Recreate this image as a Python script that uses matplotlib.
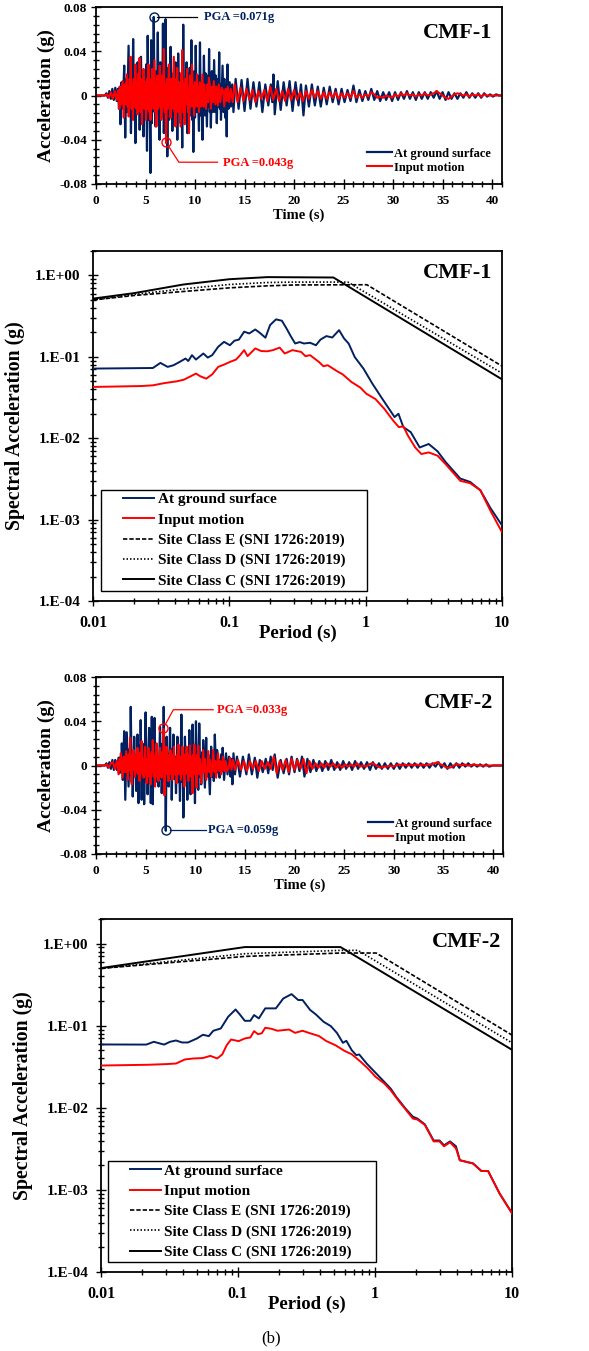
import numpy as np
import matplotlib.pyplot as plt
from matplotlib.ticker import MultipleLocator, LogLocator, NullFormatter
from matplotlib.legend_handler import HandlerLine2D

plt.rcParams['font.family'] = ['Liberation Serif', 'DejaVu Serif']
plt.rcParams['font.weight'] = 'bold'
plt.rcParams['axes.labelweight'] = 'bold'

NAVY = '#002060'
RED = '#FF0000'

# ---------------- time histories (time s, acceleration g) ----------------
gs1_pts = [
    (0.0, 0.0), (0.9, 0.0), (1.05, 0.002), (1.2, -0.002), (1.35, 0.004), (1.5, -0.003),
    (1.65, 0.006), (1.8, -0.004), (1.95, 0.007), (2.1, -0.005), (2.22, 0.006), (2.32, -0.012),
    (2.4, 0.008), (2.47, -0.026), (2.58, 0.012), (2.7, -0.012), (2.85, 0.027), (2.95, -0.038),
    (3.05, 0.015), (3.15, -0.015), (3.29, 0.045), (3.4, -0.018), (3.46, 0.016), (3.53, -0.034),
    (3.63, 0.022), (3.68, -0.010), (3.75, 0.051), (3.86, -0.022), (3.92, 0.012), (3.98, -0.043),
    (4.07, 0.015), (4.13, -0.012), (4.2, 0.030), (4.3, -0.015), (4.35, 0.010), (4.41, -0.031),
    (4.54, 0.035), (4.63, -0.012), (4.7, 0.018), (4.8, -0.037), (4.9, 0.022), (4.97, -0.018),
    (5.06, 0.028), (5.15, -0.050), (5.22, 0.054), (5.31, -0.022), (5.38, 0.020), (5.5, -0.070),
    (5.57, 0.050), (5.64, -0.025), (5.7, 0.015), (5.76, -0.012), (5.83, 0.071), (5.92, -0.015),
    (5.96, 0.010), (6.02, -0.028), (6.1, 0.022), (6.16, -0.012), (6.24, 0.057), (6.32, -0.018),
    (6.36, 0.008), (6.42, -0.040), (6.5, 0.030), (6.58, -0.020), (6.66, 0.025), (6.7, -0.005),
    (6.76, 0.065), (6.85, -0.034), (6.93, 0.020), (6.97, -0.010), (7.03, 0.069), (7.12, -0.020),
    (7.15, 0.005), (7.2, -0.055), (7.3, 0.025), (7.38, -0.022), (7.53, 0.044), (7.62, -0.015),
    (7.66, 0.012), (7.71, -0.032), (7.8, 0.020), (7.9, -0.018), (8.03, 0.030), (8.12, -0.012),
    (8.16, 0.008), (8.21, -0.040), (8.3, 0.038), (8.4, -0.015), (8.47, 0.020), (8.55, -0.025),
    (8.62, 0.015), (8.71, -0.047), (8.81, 0.064), (8.9, -0.020), (8.97, 0.012), (9.05, -0.025),
    (9.15, 0.030), (9.22, -0.034), (9.3, 0.020), (9.38, -0.020), (9.46, 0.025), (9.54, -0.018),
    (9.63, 0.050), (9.72, -0.022), (9.77, 0.015), (9.83, -0.051), (9.92, 0.022), (10.0, -0.020),
    (10.07, 0.045), (10.16, -0.015), (10.24, 0.018), (10.4, -0.032), (10.5, 0.048), (10.58, -0.018),
    (10.64, 0.012), (10.75, -0.040), (10.9, 0.036), (11.0, -0.018), (11.07, 0.020), (11.2, -0.028),
    (11.3, 0.018), (11.36, -0.010), (11.42, 0.042), (11.5, -0.015), (11.53, 0.010), (11.6, -0.029),
    (11.7, 0.022), (11.8, -0.015), (11.93, 0.032), (12.03, -0.015), (12.1, 0.018), (12.2, -0.025),
    (12.3, 0.015), (12.36, -0.010), (12.44, 0.039), (12.52, -0.012), (12.56, 0.010), (12.62, -0.022),
    (12.78, 0.027), (12.88, -0.015), (12.96, 0.015), (13.05, -0.020), (13.12, 0.010), (13.2, -0.037),
    (13.28, 0.028), (13.38, -0.012), (13.5, 0.012), (13.62, -0.010), (13.75, 0.010), (13.88, -0.015),
    (14.1, 0.015), (14.4, -0.012), (14.7, 0.014), (15.0, -0.014), (15.3, 0.015), (15.6, -0.012),
    (15.9, 0.012), (16.2, -0.010), (16.5, 0.012), (16.8, -0.015), (17.1, 0.010), (17.4, -0.009),
    (17.65, 0.010), (17.8, -0.006), (17.92, 0.019), (18.05, -0.017), (18.35, 0.013), (18.65, -0.013),
    (18.95, 0.012), (19.25, -0.009), (19.55, 0.013), (19.85, -0.014), (20.15, 0.012), (20.45, -0.009),
    (20.7, 0.010), (20.95, -0.018), (21.2, 0.009), (21.5, -0.010), (21.8, 0.010), (22.1, -0.009),
    (22.4, 0.008), (22.7, -0.010), (23.0, 0.007), (23.3, -0.008), (23.6, 0.008), (23.9, -0.006),
    (24.2, 0.006), (24.5, -0.008), (24.8, 0.006), (25.1, -0.006), (25.4, 0.005), (25.7, -0.005),
    (26.0, 0.009), (26.3, -0.006), (26.6, 0.005), (26.9, -0.005), (27.2, 0.004), (27.5, -0.004),
    (27.8, 0.006), (28.1, -0.004), (28.4, 0.004), (28.7, -0.005), (29.0, 0.003), (29.3, -0.004),
    (29.6, 0.003), (29.9, -0.005), (30.2, 0.003), (30.5, -0.004), (30.8, 0.003), (31.1, -0.003),
    (31.4, 0.004), (31.7, -0.003), (32.0, 0.003), (32.3, -0.004), (32.6, 0.003), (32.9, -0.003),
    (33.2, 0.003), (33.5, -0.003), (33.8, 0.003), (34.1, -0.002), (34.4, 0.004), (34.7, -0.003),
    (35.0, 0.003), (35.3, -0.004), (35.6, 0.003), (35.9, -0.003), (36.2, 0.002), (36.5, -0.003),
    (36.8, 0.002), (37.1, -0.002), (37.4, 0.003), (37.7, -0.002), (38.0, 0.002), (38.3, -0.002),
    (38.6, 0.002), (38.9, -0.002), (39.2, 0.002), (39.5, -0.001), (39.8, 0.001), (40.1, -0.001),
    (40.4, 0.001), (40.7, 0.0), (41.0, 0.0),
]

in1_pts = [
    (0.0, 0.0), (0.9, 0.0), (1.1, 0.001), (1.3, -0.002), (1.5, 0.003), (1.7, -0.003),
    (1.9, 0.004), (2.1, -0.004), (2.25, 0.005), (2.36, -0.012), (2.45, 0.008), (2.52, -0.008),
    (2.68, 0.013), (2.8, -0.020), (2.9, 0.010), (2.98, -0.008), (3.1, 0.019), (3.2, -0.010),
    (3.24, 0.006), (3.3, -0.019), (3.4, 0.015), (3.45, -0.005), (3.5, 0.035), (3.6, -0.012),
    (3.66, 0.010), (3.73, -0.022), (3.82, 0.015), (3.9, -0.010), (3.97, 0.028), (4.07, -0.012),
    (4.13, 0.012), (4.2, -0.017), (4.3, 0.020), (4.35, -0.008), (4.4, 0.034), (4.5, -0.015),
    (4.56, 0.015), (4.64, -0.026), (4.72, 0.010), (4.76, -0.006), (4.8, 0.024), (4.9, -0.012),
    (4.96, 0.012), (5.05, -0.022), (5.15, 0.015), (5.22, -0.012), (5.3, 0.028), (5.4, -0.015),
    (5.44, 0.010), (5.5, -0.022), (5.58, 0.015), (5.62, -0.008), (5.66, 0.024), (5.78, -0.012),
    (5.9, 0.032), (6.0, -0.015), (6.04, 0.010), (6.1, -0.028), (6.2, 0.018), (6.28, -0.012),
    (6.36, 0.015), (6.4, -0.005), (6.44, 0.027), (6.52, -0.010), (6.56, 0.008), (6.6, -0.022),
    (6.7, 0.018), (6.77, -0.010), (6.85, 0.042), (6.95, -0.015), (7.0, 0.010), (7.08, -0.043),
    (7.18, 0.015), (7.25, -0.012), (7.36, 0.028), (7.45, -0.008), (7.49, 0.010), (7.53, -0.020),
    (7.62, 0.015), (7.7, -0.012), (7.86, 0.035), (7.95, -0.015), (7.99, 0.008), (8.03, -0.028),
    (8.12, 0.015), (8.16, -0.005), (8.2, 0.025), (8.3, -0.015), (8.38, 0.012), (8.54, -0.028),
    (8.62, 0.020), (8.66, -0.008), (8.7, 0.041), (8.8, -0.015), (8.86, 0.010), (8.95, -0.026),
    (9.05, 0.015), (9.12, -0.008), (9.2, 0.024), (9.3, -0.015), (9.34, 0.005), (9.39, -0.034),
    (9.5, 0.018), (9.58, -0.010), (9.7, 0.028), (9.8, -0.010), (9.84, 0.008), (9.9, -0.018),
    (10.0, 0.012), (10.08, -0.010), (10.2, 0.019), (10.3, -0.010), (10.34, 0.008), (10.4, -0.015),
    (10.5, 0.012), (10.6, -0.010), (10.75, 0.019), (10.85, -0.010), (10.95, 0.010), (11.1, -0.012),
    (11.25, 0.010), (11.32, -0.006), (11.4, 0.016), (11.52, 0.006), (11.6, -0.012), (11.72, 0.008),
    (11.8, -0.006), (11.9, 0.013), (12.05, -0.008), (12.15, 0.008), (12.3, -0.009), (12.4, 0.010),
    (12.55, -0.006), (12.7, 0.007), (12.85, 0.004), (12.95, -0.010), (13.1, 0.006), (13.2, -0.005),
    (13.3, 0.008), (13.45, -0.006), (13.6, 0.006), (13.8, -0.006), (14.0, 0.010), (14.3, -0.006),
    (14.6, 0.007), (14.9, -0.005), (15.2, 0.006), (15.5, -0.004), (15.8, 0.005), (16.1, -0.006),
    (16.4, 0.004), (16.7, -0.003), (17.0, 0.005), (17.3, -0.005), (17.6, 0.008), (17.9, -0.004),
    (18.2, 0.006), (18.5, -0.005), (18.8, 0.004), (19.1, -0.005), (19.4, 0.006), (19.7, -0.004),
    (20.0, 0.005), (20.3, -0.004), (20.6, 0.003), (20.9, -0.005), (21.2, 0.004), (21.5, -0.003),
    (21.8, 0.005), (22.1, -0.002), (22.4, 0.004), (22.7, -0.003), (23.0, 0.003), (23.3, -0.003),
    (23.6, 0.003), (23.9, -0.002), (24.2, 0.003), (24.5, -0.003), (24.8, 0.002), (25.1, -0.002),
    (25.4, 0.002), (25.7, -0.002), (26.0, 0.004), (26.3, -0.002), (26.6, 0.001), (26.9, -0.002),
    (27.2, 0.001), (27.5, -0.001), (27.8, 0.003), (28.1, 0.001), (28.4, -0.002), (28.7, -0.001),
    (29.0, -0.002), (29.3, 0.000), (29.6, -0.001), (29.9, -0.002), (30.2, 0.001), (30.5, -0.001),
    (30.8, 0.002), (31.1, 0.000), (31.4, 0.002), (31.7, 0.000), (32.0, 0.001), (32.3, -0.001),
    (32.6, 0.001), (32.9, 0.000), (33.2, 0.002), (33.5, 0.000), (33.8, 0.001), (34.1, 0.002),
    (34.4, 0.004), (34.7, 0.002), (35.0, 0.000), (35.3, -0.002), (35.6, -0.003), (35.9, -0.001),
    (36.2, 0.001), (36.5, 0.002), (36.8, 0.001), (37.1, 0.000), (37.4, 0.001), (37.7, -0.001),
    (38.0, 0.001), (38.3, 0.000), (38.6, 0.001), (38.9, -0.001), (39.2, 0.001), (39.5, 0.000),
    (40.0, 0.000), (41.0, 0.0),
]

gs2_pts = [
    (0.0, 0.0), (0.9, 0.0), (1.05, 0.002), (1.2, -0.002), (1.35, 0.003), (1.5, -0.003),
    (1.65, 0.005), (1.8, -0.004), (1.94, 0.005), (2.1, -0.004), (2.27, 0.007), (2.37, -0.007),
    (2.48, 0.008), (2.55, -0.005), (2.6, 0.020), (2.7, -0.013), (2.84, 0.031), (2.95, -0.031),
    (3.1, 0.030), (3.28, -0.019), (3.38, 0.015), (3.44, -0.008), (3.5, 0.053), (3.6, -0.015),
    (3.64, 0.010), (3.7, -0.028), (3.85, 0.026), (3.95, -0.010), (4.0, 0.008), (4.05, -0.023),
    (4.18, 0.028), (4.28, -0.034), (4.38, 0.018), (4.44, -0.010), (4.5, 0.041), (4.6, -0.031),
    (4.68, 0.020), (4.75, -0.010), (4.8, 0.015), (4.85, -0.035), (5.0, 0.048), (5.1, -0.015),
    (5.14, 0.010), (5.2, -0.026), (5.35, 0.034), (5.44, -0.012), (5.48, 0.010), (5.52, -0.034),
    (5.62, 0.044), (5.72, -0.035), (5.8, 0.020), (5.84, -0.005), (5.9, 0.043), (6.0, -0.015),
    (6.1, 0.017), (6.2, -0.012), (6.25, 0.008), (6.3, -0.019), (6.45, 0.035), (6.53, -0.012),
    (6.57, 0.010), (6.62, -0.025), (6.72, 0.020), (6.76, -0.005), (6.82, 0.053), (6.9, -0.015),
    (6.95, 0.012), (7.03, -0.059), (7.12, 0.026), (7.22, -0.010), (7.28, 0.010), (7.32, -0.019),
    (7.46, 0.034), (7.55, -0.012), (7.58, 0.008), (7.63, -0.031), (7.72, 0.015), (7.76, -0.005),
    (7.8, 0.028), (7.9, -0.012), (7.96, 0.008), (8.06, -0.025), (8.2, 0.026), (8.3, -0.015),
    (8.36, 0.010), (8.46, -0.032), (8.6, 0.046), (8.7, -0.015), (8.74, 0.008), (8.8, -0.047),
    (8.96, 0.026), (9.05, -0.012), (9.1, 0.010), (9.2, -0.031), (9.3, 0.015), (9.34, -0.008),
    (9.4, 0.032), (9.53, -0.026), (9.62, 0.015), (9.66, -0.005), (9.73, 0.037), (9.85, -0.015),
    (9.9, 0.010), (9.97, -0.034), (10.07, 0.040), (10.17, -0.012), (10.22, 0.012), (10.3, -0.022),
    (10.4, 0.038), (10.5, -0.010), (10.53, 0.008), (10.6, -0.017), (10.7, 0.012), (10.74, -0.005),
    (10.8, 0.023), (10.97, -0.020), (11.1, 0.025), (11.2, -0.010), (11.3, 0.010), (11.47, -0.026),
    (11.6, 0.017), (11.7, -0.010), (11.78, 0.008), (11.87, -0.014), (11.97, 0.028), (12.1, -0.008),
    (12.2, 0.014), (12.32, -0.006), (12.38, 0.005), (12.45, -0.011), (12.6, 0.010), (12.7, -0.005),
    (12.76, 0.016), (12.9, -0.013), (13.1, 0.011), (13.25, -0.008), (13.4, 0.008), (13.55, -0.010),
    (13.62, 0.006), (13.74, -0.017), (13.85, 0.011), (14.0, -0.008), (14.2, 0.008), (14.5, -0.010),
    (14.8, 0.008), (15.15, -0.008), (15.4, 0.010), (15.7, -0.008), (16.0, 0.007), (16.25, -0.011),
    (16.5, 0.005), (16.8, -0.006), (17.1, 0.006), (17.35, -0.007), (17.6, 0.008), (17.8, -0.004),
    (18.0, 0.010), (18.3, -0.011), (18.6, 0.005), (18.9, -0.007), (19.2, 0.006), (19.45, -0.008),
    (19.7, 0.008), (20.0, -0.006), (20.25, 0.006), (20.5, -0.005), (20.75, 0.008), (21.0, -0.010),
    (21.3, 0.006), (21.6, -0.006), (21.9, 0.005), (22.2, -0.005), (22.5, 0.004), (22.8, -0.005),
    (23.1, 0.004), (23.4, -0.004), (23.7, 0.005), (24.0, -0.004), (24.3, 0.003), (24.6, -0.004),
    (24.9, 0.004), (25.2, -0.003), (25.5, 0.003), (25.8, -0.004), (26.1, 0.004), (26.4, -0.003),
    (26.7, 0.003), (27.0, -0.003), (27.3, 0.003), (27.6, -0.004), (27.9, 0.003), (28.2, -0.003),
    (28.5, 0.002), (28.8, -0.003), (29.1, 0.002), (29.4, -0.003), (29.7, 0.002), (30.0, -0.003),
    (30.3, 0.002), (30.6, -0.003), (30.9, 0.002), (31.2, -0.002), (31.5, 0.002), (31.8, -0.002),
    (32.1, 0.002), (32.4, -0.002), (32.7, 0.002), (33.0, -0.002), (33.3, 0.002), (33.6, -0.002),
    (33.9, 0.002), (34.2, -0.001), (34.5, 0.003), (34.8, -0.002), (35.1, 0.002), (35.4, -0.003),
    (35.7, 0.002), (36.0, -0.002), (36.3, 0.002), (36.6, -0.002), (36.9, 0.002), (37.2, -0.001),
    (37.5, 0.002), (37.8, -0.001), (38.1, 0.001), (38.4, -0.001), (38.7, 0.001), (39.0, -0.001),
    (39.3, 0.001), (39.6, -0.001), (40.0, 0.000), (41.0, 0.0),
]

in2_pts = [
    (0.0, 0.0), (0.9, 0.0), (1.1, 0.001), (1.3, -0.002), (1.5, 0.002), (1.7, 0.003),
    (1.9, -0.003), (2.1, 0.004), (2.27, -0.008), (2.38, 0.006), (2.44, -0.004), (2.5, 0.011),
    (2.68, -0.011), (2.8, 0.008), (2.9, -0.006), (3.04, 0.013), (3.12, -0.006), (3.16, 0.004),
    (3.2, -0.013), (3.3, 0.010), (3.36, -0.004), (3.44, 0.025), (3.52, -0.008), (3.56, 0.005),
    (3.6, -0.017), (3.7, 0.010), (3.74, -0.004), (3.78, 0.014), (3.95, -0.010), (4.05, 0.010),
    (4.1, -0.006), (4.18, 0.016), (4.28, -0.008), (4.32, 0.006), (4.38, -0.014), (4.48, 0.012),
    (4.53, -0.005), (4.6, 0.022), (4.7, -0.008), (4.74, 0.006), (4.8, -0.011), (4.95, 0.017),
    (5.03, -0.008), (5.06, 0.006), (5.1, -0.016), (5.2, -0.006), (5.28, 0.016), (5.38, -0.010),
    (5.42, 0.008), (5.5, -0.017), (5.6, 0.012), (5.65, -0.006), (5.72, 0.023), (5.82, -0.010),
    (5.88, 0.008), (5.95, -0.019), (6.03, 0.012), (6.06, -0.006), (6.1, 0.020), (6.2, -0.010),
    (6.24, 0.006), (6.3, -0.014), (6.38, 0.010), (6.42, -0.004), (6.45, 0.016), (6.53, -0.008),
    (6.56, 0.005), (6.6, -0.011), (6.7, 0.012), (6.75, -0.004), (6.82, 0.033), (6.9, -0.027),
    (7.0, 0.010), (7.04, -0.006), (7.1, 0.017), (7.2, -0.008), (7.24, 0.006), (7.3, -0.014),
    (7.4, 0.010), (7.44, -0.004), (7.5, 0.014), (7.6, -0.008), (7.64, 0.005), (7.7, -0.013),
    (7.78, 0.010), (7.82, -0.004), (7.86, 0.017), (7.96, -0.008), (8.02, 0.006), (8.13, -0.016),
    (8.22, 0.010), (8.26, -0.004), (8.3, 0.019), (8.4, -0.008), (8.46, 0.008), (8.56, -0.013),
    (8.62, 0.008), (8.66, -0.004), (8.7, 0.017), (8.8, -0.008), (8.84, 0.006), (8.9, -0.019),
    (9.0, 0.010), (9.05, -0.004), (9.13, 0.017), (9.22, -0.008), (9.26, 0.004), (9.3, -0.014),
    (9.38, 0.010), (9.42, -0.004), (9.46, 0.018), (9.56, -0.010), (9.62, 0.008), (9.73, -0.025),
    (9.82, 0.010), (9.86, -0.004), (9.9, 0.019), (10.0, -0.008), (10.05, 0.006), (10.13, -0.020),
    (10.22, 0.010), (10.26, -0.004), (10.3, 0.018), (10.4, -0.008), (10.46, 0.006), (10.6, -0.016),
    (10.8, 0.014), (10.9, -0.006), (10.95, 0.006), (11.1, -0.013), (11.2, -0.004), (11.3, 0.013),
    (11.42, -0.006), (11.48, 0.005), (11.6, -0.010), (11.7, -0.004), (11.8, 0.014), (11.95, -0.006),
    (12.0, 0.004), (12.1, -0.011), (12.3, 0.011), (12.45, -0.005), (12.52, 0.004), (12.6, -0.008),
    (12.7, -0.003), (12.8, 0.008), (12.95, -0.005), (13.05, 0.004), (13.2, -0.005), (13.35, -0.003),
    (13.5, 0.007), (13.65, -0.004), (13.8, 0.005), (14.0, -0.004), (14.3, 0.005), (14.6, -0.004),
    (14.9, 0.004), (15.2, -0.005), (15.5, 0.004), (15.8, -0.003), (16.1, 0.004), (16.4, -0.005),
    (16.7, 0.004), (17.0, -0.003), (17.3, 0.003), (17.6, -0.003), (17.9, 0.008), (18.2, -0.007),
    (18.5, 0.004), (18.8, -0.004), (19.1, 0.005), (19.4, -0.006), (19.7, 0.006), (20.0, -0.004),
    (20.3, 0.005), (20.6, -0.003), (20.9, 0.006), (21.2, -0.007), (21.5, 0.004), (21.8, -0.003),
    (22.1, 0.002), (22.4, -0.002), (22.7, 0.002), (23.0, -0.002), (23.3, 0.002), (23.6, -0.001),
    (23.9, 0.002), (24.2, -0.002), (24.5, 0.001), (24.8, -0.002), (25.1, 0.001), (25.4, -0.001),
    (25.7, 0.001), (26.0, -0.001), (26.3, 0.002), (26.6, -0.001), (26.9, 0.000), (27.2, -0.001),
    (27.5, 0.001), (27.8, 0.002), (28.1, 0.001), (28.4, -0.001), (28.7, -0.002), (29.0, -0.001),
    (29.3, -0.001), (29.6, 0.000), (29.9, -0.001), (30.2, 0.000), (30.5, 0.001), (30.8, 0.000),
    (31.1, 0.001), (31.4, 0.000), (31.7, 0.001), (32.0, 0.000), (32.3, 0.001), (32.6, 0.000),
    (32.9, 0.001), (33.2, 0.000), (33.5, 0.001), (33.8, 0.001), (34.1, 0.002), (34.4, 0.003),
    (34.7, 0.001), (35.0, 0.000), (35.3, -0.002), (35.6, -0.002), (35.9, -0.001), (36.2, 0.001),
    (36.5, 0.001), (36.8, 0.000), (37.1, 0.001), (37.4, 0.000), (37.7, 0.000), (38.0, 0.001),
    (38.6, 0.000), (39.2, 0.000), (40.0, 0.000), (41.0, 0.0),
]

# ---------------- response spectra (period s, Sa g) ----------------
sa_gs1 = [
    (0.01, 0.0718), (0.0275, 0.073), (0.0312, 0.0843), (0.0353, 0.0753), (0.039, 0.079),
    (0.0432, 0.0867), (0.0477, 0.0954), (0.050, 0.089), (0.0532, 0.105), (0.0569, 0.0927),
    (0.0645, 0.110), (0.0695, 0.098), (0.0749, 0.105), (0.0828, 0.133), (0.0915, 0.153),
    (0.101, 0.139), (0.109, 0.158), (0.1175, 0.163), (0.1285, 0.204), (0.140, 0.194),
    (0.155, 0.217), (0.167, 0.198), (0.184, 0.172), (0.199, 0.246), (0.22, 0.289),
    (0.243, 0.278), (0.262, 0.225), (0.282, 0.18), (0.304, 0.146), (0.328, 0.152),
    (0.353, 0.146), (0.391, 0.149), (0.432, 0.139), (0.466, 0.163), (0.515, 0.18),
    (0.569, 0.173), (0.638, 0.213), (0.695, 0.168), (0.75, 0.146), (0.83, 0.10),
    (0.963, 0.0718), (1.12, 0.0469), (1.3, 0.032), (1.51, 0.022), (1.63, 0.0182),
    (1.74, 0.020), (1.89, 0.0137), (2.14, 0.0119), (2.49, 0.0077), (2.9, 0.0085),
    (3.37, 0.0069), (3.86, 0.0051), (4.94, 0.0032), (5.85, 0.0029), (6.93, 0.0023),
    (8.2, 0.0014), (10.0, 0.00085),
]
sa_in1 = [
    (0.01, 0.0427), (0.0225, 0.0438), (0.0275, 0.0447), (0.0336, 0.0477), (0.041, 0.050),
    (0.0465, 0.0525), (0.0569, 0.0623), (0.0613, 0.0577), (0.0677, 0.054), (0.0749, 0.061),
    (0.0828, 0.0753), (0.0915, 0.0804), (0.101, 0.0867), (0.112, 0.0927), (0.12, 0.105),
    (0.1285, 0.121), (0.136, 0.102), (0.155, 0.127), (0.171, 0.118), (0.189, 0.117),
    (0.209, 0.121), (0.234, 0.130), (0.255, 0.110), (0.29, 0.121), (0.336, 0.115),
    (0.362, 0.102), (0.391, 0.105), (0.454, 0.0867), (0.49, 0.0767), (0.527, 0.079),
    (0.612, 0.0672), (0.677, 0.0611), (0.787, 0.0491), (0.916, 0.0418), (1.01, 0.0353),
    (1.18, 0.0303), (1.37, 0.023), (1.59, 0.0165), (1.75, 0.0137), (1.89, 0.014),
    (2.04, 0.0108), (2.31, 0.0077), (2.56, 0.0064), (2.9, 0.0067), (3.37, 0.0061),
    (3.86, 0.0048), (4.94, 0.0030), (5.85, 0.0028), (6.93, 0.0023), (8.2, 0.0013),
    (10.0, 0.0007),
]
sa_gs2 = [
    (0.01, 0.0592), (0.0214, 0.059), (0.0243, 0.0638), (0.0268, 0.061), (0.0289, 0.059),
    (0.0319, 0.0638), (0.0353, 0.0662), (0.039, 0.0626), (0.0431, 0.0626), (0.0501, 0.070),
    (0.0554, 0.0777), (0.0612, 0.0748), (0.066, 0.0869), (0.0749, 0.0928), (0.0848, 0.129),
    (0.096, 0.158), (0.104, 0.135), (0.112, 0.115), (0.123, 0.115), (0.131, 0.135),
    (0.142, 0.123), (0.158, 0.163), (0.189, 0.163), (0.214, 0.215), (0.246, 0.243),
    (0.275, 0.206), (0.296, 0.206), (0.336, 0.156), (0.371, 0.137), (0.421, 0.112),
    (0.476, 0.099), (0.527, 0.082), (0.583, 0.062), (0.618, 0.0656), (0.676, 0.0505),
    (0.729, 0.0439), (0.767, 0.0447), (0.869, 0.0347), (1.01, 0.0267), (1.17, 0.0207),
    (1.3, 0.0172), (1.43, 0.0136), (1.67, 0.0098), (1.89, 0.0078), (2.04, 0.0074),
    (2.31, 0.0063), (2.68, 0.0040), (2.96, 0.0040), (3.19, 0.0035), (3.53, 0.0039),
    (3.9, 0.0034), (4.16, 0.0023), (5.2, 0.0021), (5.98, 0.0017), (6.69, 0.0017),
    (8.13, 0.0009), (10.0, 0.00052),
]
sa_in2 = [
    (0.01, 0.0328), (0.0222, 0.0335), (0.0296, 0.0341), (0.0353, 0.0347), (0.041, 0.0389),
    (0.0477, 0.040), (0.0554, 0.0404), (0.0628, 0.043), (0.0705, 0.040), (0.0767, 0.0447),
    (0.0827, 0.058), (0.089, 0.068), (0.101, 0.065), (0.112, 0.070), (0.123, 0.072),
    (0.131, 0.086), (0.14, 0.079), (0.149, 0.081), (0.158, 0.0945), (0.175, 0.092),
    (0.194, 0.087), (0.214, 0.0885), (0.236, 0.090), (0.261, 0.082), (0.296, 0.087),
    (0.336, 0.081), (0.39, 0.075), (0.442, 0.065), (0.514, 0.058), (0.597, 0.0496),
    (0.676, 0.045), (0.787, 0.0364), (0.891, 0.030), (1.01, 0.0239), (1.17, 0.0198),
    (1.3, 0.0164), (1.51, 0.0118), (1.67, 0.0096), (1.89, 0.0074), (2.04, 0.0072),
    (2.31, 0.0062), (2.68, 0.0039), (2.96, 0.0039), (3.19, 0.0034), (3.53, 0.0038),
    (3.9, 0.0032), (4.16, 0.0023), (5.2, 0.0021), (5.98, 0.0017), (6.69, 0.0017),
    (8.13, 0.0009), (10.0, 0.00052),
]

# design spectra SNI 1726:2019
siteE_1 = [(0.01, 0.50), (0.02, 0.568), (0.046, 0.636), (0.1, 0.705), (0.19, 0.746), (0.3, 0.765), (1.02, 0.77), (10.0, 0.077)]
siteD_1 = [(0.01, 0.50), (0.02, 0.585), (0.046, 0.686), (0.1, 0.775), (0.19, 0.82), (0.3, 0.83), (0.74, 0.83), (10.0, 0.063)]
siteC_1 = [(0.01, 0.52), (0.02, 0.607), (0.046, 0.775), (0.1, 0.90), (0.19, 0.955), (0.58, 0.945), (10.0, 0.053)]
siteE_2 = [(0.01, 0.50), (0.112, 0.70), (0.56, 0.77), (1.02, 0.77), (10.0, 0.077)]
siteD_2 = [(0.01, 0.50), (0.112, 0.755), (0.56, 0.83), (0.75, 0.83), (10.0, 0.062)]
siteC_2 = [(0.01, 0.505), (0.112, 0.91), (0.56, 0.91), (10.0, 0.051)]

acc_ticks = [-0.08, -0.04, 0.0, 0.04, 0.08]
acc_labels = ['-0.08', '-0.04', '0', '0.04', '0.08']
time_ticks = [0, 5, 10, 15, 20, 25, 30, 35, 40]
sa_ticks = [1e-4, 1e-3, 1e-2, 1e-1, 1.0]
sa_labels = ['1.E-04', '1.E-03', '1.E-02', '1.E-01', '1.E+00']
per_ticks = [0.01, 0.1, 1, 10]
per_labels = ['0.01', '0.1', '1', '10']


class RightLine(HandlerLine2D):
    # legend sample drawn only on the right part of the handle box
    def create_artists(self, legend, orig_handle, xdescent, ydescent, width, height, fontsize, trans):
        cut = 0.38 * width
        return super().create_artists(legend, orig_handle, xdescent - cut, ydescent,
                                      width - cut, height, fontsize, trans)


def xy(pts):
    a = np.array(pts)
    return a[:, 0], a[:, 1]


def style_axes(ax):
    for s in ax.spines.values():
        s.set_linewidth(1.3)
    ax.tick_params(which='both', direction='inout', top=False, right=False, width=1.0)
    ax.tick_params(which='major', length=7)
    ax.tick_params(which='minor', length=4.5)


def time_panel(rect, gs, inp, tag):
    ax = fig.add_axes(rect)
    style_axes(ax)
    t, a = xy(gs)
    ax.plot(t, a, color=NAVY, lw=1.6, label='At ground surface')
    t, a = xy(inp)
    ax.plot(t, a, color=RED, lw=1.5, label='Input motion')
    ax.set_xlim(0, 41)
    ax.set_ylim(-0.08, 0.08)
    ax.set_xticks(time_ticks)
    ax.set_yticks(acc_ticks, acc_labels)
    ax.xaxis.set_minor_locator(MultipleLocator(1))
    ax.yaxis.set_minor_locator(MultipleLocator(0.008))
    ax.tick_params(axis='both', labelsize=9.5)
    ax.tick_params(axis='x', pad=4.5)
    ax.tick_params(axis='y', pad=3)
    ax.set_xlabel('Time (s)', fontsize=10.5)
    ax.xaxis.set_label_coords(0.5, -0.14)
    ax.set_ylabel('Acceleration (g)', fontsize=14)
    ax.yaxis.set_label_coords(-0.1, 0.5)
    ax.text(0.975, 0.855, tag, transform=ax.transAxes, ha='right', va='center', fontsize=16)
    ax.legend(loc='lower right', bbox_to_anchor=(0.985, 0.03), frameon=False, fontsize=9,
              handlelength=2.0, handletextpad=0.2, labelspacing=0.15, borderaxespad=0)
    return ax


def spectrum_panel(rect, gs, inp, e, d, c, tag, box):
    ax = fig.add_axes(rect)
    style_axes(ax)
    ax.set_xscale('log')
    ax.set_yscale('log')
    h = []
    t, s = xy(gs)
    h.append(ax.plot(t, s, color=NAVY, lw=1.4, label='At ground surface', zorder=4)[0])
    t, s = xy(inp)
    h.append(ax.plot(t, s, color=RED, lw=1.4, label='Input motion', zorder=5)[0])
    t, s = xy(e)
    h.append(ax.plot(t, s, color='black', lw=1.2, ls=(0, (2.6, 1.2)), label='Site Class E (SNI 1726:2019)')[0])
    t, s = xy(d)
    h.append(ax.plot(t, s, color='black', lw=1.2, ls=(0, (0.9, 1.2)), label='Site Class D (SNI 1726:2019)')[0])
    t, s = xy(c)
    h.append(ax.plot(t, s, color='black', lw=1.4, label='Site Class C (SNI 1726:2019)')[0])
    ax.set_xlim(0.01, 10)
    ax.set_ylim(1e-4, 2)
    ax.set_xticks(per_ticks, per_labels)
    ax.set_yticks(sa_ticks, sa_labels)
    ax.xaxis.set_minor_locator(LogLocator(base=10, subs=np.arange(2, 10)))
    ax.yaxis.set_minor_locator(LogLocator(base=10, subs=np.arange(2, 10)))
    ax.xaxis.set_minor_formatter(NullFormatter())
    ax.yaxis.set_minor_formatter(NullFormatter())
    ax.tick_params(axis='x', labelsize=11.5, pad=6.5)
    ax.tick_params(axis='y', labelsize=11, pad=5.5)
    ax.set_xlabel('Period (s)', fontsize=13.5)
    ax.xaxis.set_label_coords(0.5, -0.068)
    ax.set_ylabel('Spectral Acceleration (g)', fontsize=14.2)
    ax.yaxis.set_label_coords(-0.166, 0.5)
    ax.text(0.975, 0.936, tag, transform=ax.transAxes, ha='right', va='center', fontsize=16)
    leg = ax.legend(handles=h, loc='lower left', bbox_to_anchor=box, mode='expand', fontsize=11,
                    frameon=True, fancybox=False, edgecolor='black', framealpha=1,
                    handlelength=3.3, handletextpad=0.2, labelspacing=0.43, borderpad=0.2,
                    borderaxespad=0, handler_map={plt.Line2D: RightLine()})
    leg.get_frame().set_linewidth(1.0)
    return ax


fig = plt.figure(figsize=(5.89, 13.51), dpi=100)

ax1 = time_panel([96 / 589, 1 - 184 / 1351, 406 / 589, 177 / 1351], gs1_pts, in1_pts, 'CMF-1')
ax1.plot(5.83, 0.071, marker='o', mfc='none', mec=NAVY, ms=6.5, mew=1.0)
ax1.plot([6.15, 10.2], [0.071, 0.071], color='black', lw=0.9)
ax1.text(10.9, 0.071, 'PGA =0.071g', color=NAVY, fontsize=9, va='center')
ax1.plot(7.08, -0.042, marker='o', mfc='none', mec=RED, ms=6.5, mew=1.0)
ax1.plot([7.3, 8.37, 12.27], [-0.0455, -0.0603, -0.0603], color=RED, lw=0.9)
ax1.text(12.78, -0.0606, 'PGA =0.043g', color=RED, fontsize=9, va='center')

spectrum_panel([93 / 589, 1 - 601 / 1351, 409 / 589, 350 / 1351], sa_gs1, sa_in1,
               siteE_1, siteD_1, siteC_1, 'CMF-1', (0.0196, 0.0286, 0.650, 0.2))

ax3 = time_panel([96 / 589, 1 - 854 / 1351, 407 / 589, 177 / 1351], gs2_pts, in2_pts, 'CMF-2')
ax3.plot(6.79, 0.0339, marker='o', mfc='none', mec=RED, ms=6.5, mew=1.0)
ax3.plot([6.98, 7.79, 11.8], [0.037, 0.0504, 0.0504], color=RED, lw=0.9)
ax3.text(12.14, 0.0504, 'PGA =0.033g', color=RED, fontsize=9, va='center')
ax3.plot(7.02, -0.0585, marker='o', mfc='none', mec=NAVY, ms=6.5, mew=1.0)
ax3.plot([7.45, 11.1], [-0.0585, -0.0585], color=NAVY, lw=0.9)
ax3.text(11.3, -0.0585, 'PGA =0.059g', color=NAVY, fontsize=9, va='center')

spectrum_panel([101 / 589, 1 - 1272 / 1351, 411 / 589, 353 / 1351], sa_gs2, sa_in2,
               siteE_2, siteD_2, siteC_2, 'CMF-2', (0.0163, 0.0275, 0.654, 0.2))

fig.text(271 / 589, 1 - 1338 / 1351, '(b)', ha='center', va='center', fontsize=12,
         fontweight='normal')

fig.savefig('out.png', dpi=100)
